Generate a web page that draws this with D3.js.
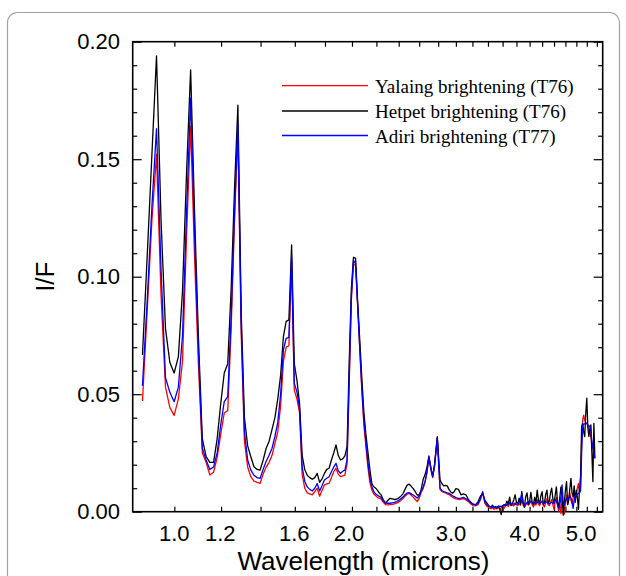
<!DOCTYPE html>
<html><head><meta charset="utf-8">
<script src="https://cdn.jsdelivr.net/npm/d3@7"></script>
<style>body{margin:0;background:#fff} svg{display:block}</style>
</head><body>
<svg id="c" width="626" height="576"></svg>
<script>
// ---- DATA ----
const wavelength = [
0.883,0.8996,0.9162,0.9328,0.9494,0.966,0.9826,0.9992,1.0158,1.0324,
1.049,1.0656,1.0822,1.0988,1.1154,1.132,1.1486,1.1652,1.1818,1.1984,
1.215,1.2316,1.2482,1.2648,1.2814,1.298,1.3146,1.3312,1.3478,1.3644,
1.381,1.3976,1.4142,1.4308,1.4474,1.464,1.4806,1.4972,1.5138,1.5304,
1.547,1.5636,1.5802,1.5968,1.6134,1.63,1.6466,1.6632,1.6798,1.6964,
1.713,1.7296,1.7462,1.7628,1.7794,1.796,1.8126,1.8292,1.8458,1.8624,
1.879,1.8956,1.9122,1.9288,1.9454,1.962,1.9786,1.9952,2.0118,2.0284,
2.045,2.0616,2.0782,2.0948,2.1114,2.128,2.1446,2.1612,2.1778,2.1944,
2.211,2.2276,
2.24,2.26,2.28,2.30,2.32,2.34,2.36,2.38,2.40,2.42,2.44,2.46,2.48,2.50,2.52,2.54,2.56,2.58,2.60,2.62,
2.64,2.66,2.68,2.70,2.72,2.74,2.76,2.79,2.82,2.84,2.86,2.88,2.90,2.92,2.94,2.96,2.98,3.00,
3.03,3.06,3.09,3.12,3.15,3.18,3.21,3.24,3.27,3.30,3.33,3.36,3.39,
3.42,3.44,3.46,3.48,3.50,3.52,3.54,3.56,3.58,3.60,
3.62,3.64,3.66,3.68,3.70,3.72,3.74,3.76,3.78,3.80,
3.82,3.84,3.86,3.88,3.90,3.92,3.94,3.96,3.98,4.00,
4.02,4.04,4.06,4.08,4.10,4.12,4.14,4.16,4.18,4.20,
4.22,4.24,4.26,4.28,4.30,4.32,4.34,4.36,4.38,4.40,
4.42,4.44,4.46,4.48,4.50,4.52,4.54,4.56,4.58,4.60,
4.62,4.64,4.66,4.68,4.70,4.72,4.74,4.76,4.78,4.80,
4.82,4.84,4.86,4.88,4.90,4.92,4.94,4.96,4.98,5.00,
5.02,5.04,5.06,5.08,5.10,5.12,5.14,5.16
];

// Yalaing brightening (T76) - red
const yalaing = [
.0471,.086,.124,.152,.092,.053,.0443,.041,.048,.064,
.118,.164,.108,.062,.025,.021,.0156,.0168,.023,.033,
.042,.043,.078,.124,.162,.076,.030,.019,.0149,.013,
.0125,.0121,.016,.019,.021,.024,.029,.034,.045,.064,
.070,.0706,.1064,.0518,.048,.042,.016,.010,.008,.0076,
.0072,.0085,.010,.0066,.009,.0114,.0118,.0121,.0145,.017,
.0185,.016,.0149,.0152,.0156,.0206,.055,.090,.1057,.1045,
.087,.069,.052,.037,.028,.019,.0125,.0092,.0075,.0068,
.006,.0057,
.0055,.004,.003,.0029,.003,.0031,.0033,.0036,.0041,.0048,.0056,.0066,.0075,.0078,.007,.0062,.0052,.0043,.0058,.0082,
.0098,.0125,.0168,.023,.018,.0145,.0195,.0314,.0095,.0086,.0082,.008,.0076,.0072,.0068,.0062,.0058,.0055,
.0052,.0053,.0056,.005,.0043,.0033,.0026,.0025,.003,.005,.008,.0035,.0022,
.0016,.0012,.0018,.001,.0015,.0012,.002,.0008,.0018,.0022,
.0014,.0026,.003,.0022,.0036,.0026,.003,.0024,.0038,.003,
.0026,.0034,.0028,.005,.0028,.0018,.003,.004,.0028,.0034,
.0045,.003,.002,.0036,.0028,.005,.0032,.0026,.004,.0046,
.0028,.002,.0044,.0055,.003,.0026,.004,.0052,.003,.001,
.0045,.006,.003,.0004,.003,-.0008,.006,.003,-.001,.004,
.007,.003,.0055,.008,.005,.0035,.006,.009,.005,.0075,
.01,.012,.008,.011,.03,.039,.0411,.039,.038,.0375,
.0365,.0355,.034,.032,.029,.027,.026,.0255
];

// Hetpet brightening (T76) - black
const hetpet = [
.0667,.109,.152,.194,.124,.078,.0635,.059,.066,.094,
.145,.188,.127,.073,.031,.0235,.021,.021,.031,.046,
.059,.063,.095,.138,.173,.085,.040,.028,.0234,.0191,
.018,.0177,.022,.027,.030,.035,.040,.048,.058,.0745,
.081,.0816,.1135,.063,.056,.046,.024,.018,.0155,.0145,
.0138,.0145,.0163,.0125,.014,.0163,.018,.0185,.022,.025,
.0284,.024,.022,.0225,.0237,.0277,.064,.095,.1083,.1078,
.089,.073,.057,.0425,.033,.0255,.018,.012,.0106,.010,
.009,.0078,
.0072,.005,.0036,.0048,.0057,.0055,.0052,.0053,.0058,.0066,.0076,.0095,.0113,.0117,.0108,.0098,.0085,.0071,.0071,.0095,
.0137,.0158,.019,.0237,.019,.015,.02,.0319,.0135,.012,.011,.0112,.011,.0095,.0084,.0079,.0085,.0098,
.0095,.0072,.0076,.0072,.0052,.004,.0032,.0029,.0042,.0065,.0078,.0048,.0035,
.0022,.0020,.0028,.0018,.0022,.0016,.0024,.0012,-.0012,.0020,
.0030,.0026,.0045,.0032,.0062,.0028,.0035,.0050,.0072,.0040,
.0034,.0058,.0030,.0086,.0040,.0020,.0065,.0080,.0030,.0045,
.0082,.0040,.0030,.0062,.0036,.0092,.0050,.0034,.0068,.0085,
.0030,.0040,.0075,.0092,.0038,.0045,.0080,.0100,.0055,.0035,
.0070,.0106,.0040,.0020,.0060,.0106,.0070,-.0015,.0040,.0090,
.0128,.0030,.0050,.0100,.0142,.0080,.0064,.0110,.0040,.0092,
.0060,.0010,.0100,.0150,.0362,.0376,.0340,.0320,.0420,.0483,
.0360,.0320,.0350,.0369,.0250,.0128,.0376,.0227
];

// Adiri brightening (T77) - blue
const adiri = [
.0536,.090,.130,.163,.103,.057,.0508,.0468,.053,.075,
.128,.176,.118,.068,.027,.022,.018,.019,.025,.037,
.0468,.049,.083,.128,.165,.080,.034,.022,.0177,.0155,
.0145,.0142,.018,.0215,.024,.027,.032,.038,.050,.0688,
.0738,.0742,.109,.0546,.051,.044,.019,.013,.0105,.0095,
.0088,.010,.012,.0088,.011,.0135,.0142,.0149,.017,.019,
.0206,.0175,.0163,.0172,.0177,.022,.058,.092,.107,.1057,
.088,.070,.053,.039,.030,.021,.0145,.0106,.0085,.0075,
.007,.0064,
.0062,.0046,.0037,.0036,.0036,.0038,.004,.0043,.0048,.0055,.0062,.0072,.008,.0081,.0076,.0071,.0065,.0058,.0068,.009,
.0105,.013,.017,.0232,.0185,.015,.0195,.0312,.01,.009,.0086,.0083,.008,.0078,.0074,.0068,.0064,.006,
.0057,.0058,.0061,.0055,.0048,.0038,.0031,.003,.0034,.0055,.0085,.004,.0028,
.0022,.0021,.002,.0019,.0019,.002,.0022,.0024,.0022,.0026,
.0028,.003,.0028,.0034,.0038,.0033,.0036,.0032,.0034,.003,
.0036,.004,.005,.0078,.0035,.0024,.0032,.0038,.0042,.004,
.0044,.0038,.0036,.004,.0035,.0038,.0042,.0036,.004,.0044,
.0038,.0036,.0042,.004,.0034,.0033,.0038,.004,.0036,.0042,
.005,.0046,.003,.0014,.003,.006,.0114,.004,.0029,.0045,
.0057,.005,.006,.0064,.0058,.004,.0014,.005,.0071,.0068,
.0074,.0078,.008,.009,.025,.0369,.0372,.0374,.0376,.0376,
.037,.0366,.0362,.035,.03,.0277,.025,.0227
];

const seriesNames = ["Yalaing brightening (T76)", "Hetpet brightening (T76)", "Adiri brightening (T77)"];
const seriesColors = ["#ff0000", "#000000", "#0000ff"];
const xTickValues = [1.0,1.2,1.4,1.6,1.8,2.0,2.2,2.4,2.6,2.8,3.0,3.2,3.4,3.6,3.8,4.0,4.2,4.4,4.6,4.8,5.0,5.2];
const xTickLabels = ["1.0","1.2","1.6","2.0","3.0","4.0","5.0"];
const yMajorTicks = [0, 0.05, 0.10, 0.15, 0.20];
const yMinorTicks = [0.01,0.02,0.03,0.04,0.06,0.07,0.08,0.09,0.11,0.12,0.13,0.14,0.16,0.17,0.18,0.19];
const xDomain = [0.85, 5.32];
const yDomain = [0, 0.20];

[yalaing, hetpet, adiri].forEach((s, k) => {
  if (s.length !== wavelength.length) throw new Error("length mismatch series " + k + ": " + s.length + " vs " + wavelength.length);
});

// ---- LAYOUT ----
const svg = d3.select("#c");
const L = 132.7, R = 602.7, T = 41.7, B = 511.7;
const x = d3.scaleLog().domain(xDomain).range([L, R]);
const y = d3.scaleLinear().domain(yDomain).range([B, T]);
const sans = "'Liberation Sans', Arial, Helvetica, sans-serif";
const serif = "'Liberation Serif', 'Times New Roman', Times, serif";

// outer rounded panel border
svg.append("rect").attr("x", 7.5).attr("y", 12.5).attr("width", 612).attr("height", 640)
  .attr("rx", 10).attr("fill", "none").attr("stroke", "#a0a0a0").attr("stroke-width", 1.2);

// label offsets (styling: reference labels sit slightly left of ticks)
const labelDx = {"1.0": -0.6, "1.2": -1.3, "1.6": -1, "2.0": -3.5, "3.0": -5.4, "4.0": -5.3, "5.0": -6.2};
const fmtX = d => { const s = d3.format(".1f")(d); return xTickLabels.includes(s) ? s : ""; };

function styleAxis(g) {
  g.select(".domain").remove();
  g.selectAll(".tick line").attr("stroke", "#000").attr("stroke-width", 1.2);
  g.attr("font-family", sans).attr("font-size", 22);
  g.selectAll(".tick text").attr("fill", "#000");
}

// bottom
const gb = svg.append("g").attr("transform", `translate(0,${B})`)
  .call(d3.axisBottom(x).tickValues(xTickValues).tickSize(-5).tickPadding(14).tickFormat(fmtX));
styleAxis(gb);
gb.selectAll(".tick text").attr("dx", function() { const t = d3.select(this).text(); return labelDx[t] || 0; });
gb.selectAll(".tick text").filter(function() { return d3.select(this).text() === ""; }).remove();
// top
const gt = svg.append("g").attr("transform", `translate(0,${T})`)
  .call(d3.axisTop(x).tickValues(xTickValues).tickSize(-5).tickFormat(""));
styleAxis(gt);
gt.selectAll(".tick text").remove();
// left
const gl = svg.append("g").attr("transform", `translate(${L},0)`)
  .call(d3.axisLeft(y).tickValues(yMajorTicks).tickSize(-9).tickPadding(12.7).tickFormat(d3.format(".2f")));
styleAxis(gl);
const glm = svg.append("g").attr("transform", `translate(${L},0)`)
  .call(d3.axisLeft(y).tickValues(yMinorTicks).tickSize(-4.5).tickFormat(""));
styleAxis(glm);
glm.selectAll(".tick text").remove();
// right
const gr = svg.append("g").attr("transform", `translate(${R},0)`)
  .call(d3.axisRight(y).tickValues(yMajorTicks).tickSize(-9).tickFormat(""));
styleAxis(gr);
gr.selectAll(".tick text").remove();
const grm = svg.append("g").attr("transform", `translate(${R},0)`)
  .call(d3.axisRight(y).tickValues(yMinorTicks).tickSize(-4.5).tickFormat(""));
styleAxis(grm);
grm.selectAll(".tick text").remove();

// frame
svg.append("rect").attr("x", L).attr("y", T).attr("width", R - L).attr("height", B - T)
  .attr("fill", "none").attr("stroke", "#000").attr("stroke-width", 1.6);

// series
const seriesData = [yalaing, hetpet, adiri];
const line = d3.line().x((d, i) => x(wavelength[i])).y(d => y(d));
seriesData.forEach((s, k) => {
  svg.append("path").datum(s).attr("d", line).attr("fill", "none")
    .attr("stroke", seriesColors[k]).attr("stroke-width", 1.3)
    .attr("stroke-linejoin", "round");
});

// legend
const legY = [85.7, 111, 135.5];
seriesNames.forEach((n, k) => {
  svg.append("line").attr("x1", 282).attr("x2", 368).attr("y1", legY[k]).attr("y2", legY[k])
    .attr("stroke", seriesColors[k]).attr("stroke-width", 1.3);
  svg.append("text").attr("x", 375).attr("y", legY[k] + 7).attr("font-family", serif)
    .attr("font-size", 19).attr("fill", "#000").text(n);
});

// axis titles
svg.append("text").attr("x", 363.5).attr("y", 570.2).attr("text-anchor", "middle")
  .attr("font-family", sans).attr("font-size", 26).attr("fill", "#000").text("Wavelength (microns)");
svg.append("text").attr("transform", `translate(53.5,${(T + B) / 2}) rotate(-90)`).attr("text-anchor", "middle")
  .attr("font-family", sans).attr("font-size", 26).attr("fill", "#000").text("I/F");
</script>
</body></html>
